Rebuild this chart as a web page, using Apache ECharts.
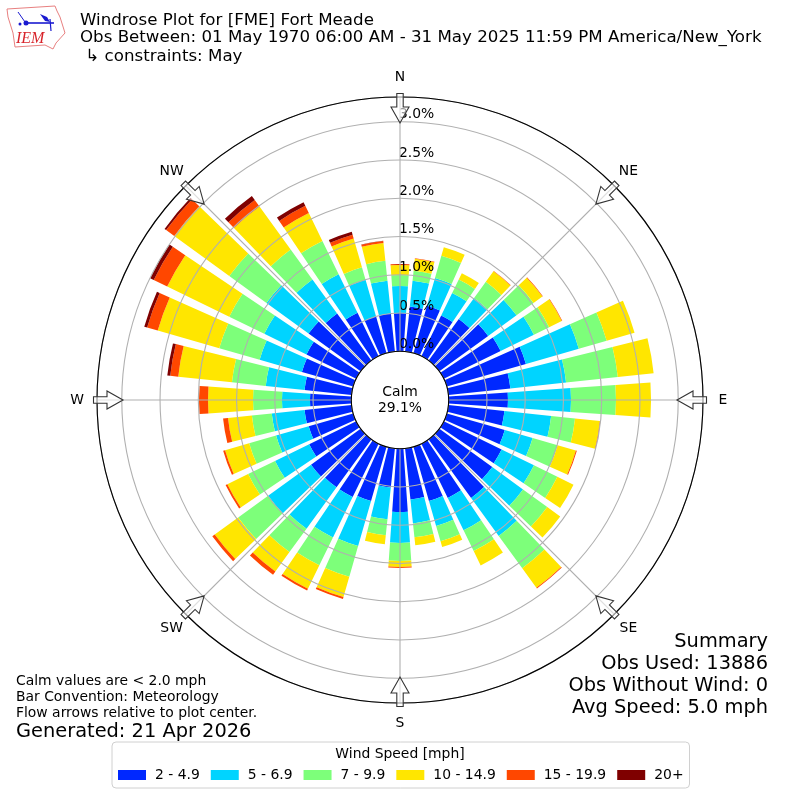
<!DOCTYPE html>
<html>
<head>
<meta charset="utf-8">
<style>html,body{margin:0;padding:0;background:#fff}#c{width:800px;height:800px}</style>
<script src="https://cdn.jsdelivr.net/npm/echarts@6/dist/echarts.min.js"></script>
</head>
<body>
<div id="c"></div>
<script>
const directions = [10,20,30,40,50,60,70,80,90,100,110,120,130,140,150,160,170,180,190,200,210,220,230,240,250,260,270,280,290,300,310,320,330,340,350,360].map(String);
const speedNames = ['2 - 4.9','5 - 6.9','7 - 9.9','10 - 14.9','15 - 19.9','20+'];
const speedColors = ['#0028ff','#00d4ff','#7dff7a','#ffe600','#ff4700','#7f0000'];
const speed2to5 = [.592,.644,.592,.671,.788,.827,1.076,.814,.775,.736,.788,.841,.854,.945,.788,.736,.671,.827,.514,.736,.775,.775,.801,.684,.605,.618,.540,.618,.697,.723,.841,.762,.631,.501,.501,.501];
const speed5to7 = [.340,.379,.327,.340,.458,.484,.719,.732,.824,.614,.379,.471,.497,.614,.471,.340,.314,.405,.418,.614,.588,.667,.693,.497,.444,.431,.366,.510,.575,.614,.680,.549,.562,.497,.431,.353];
const speed7to10 = [.131,.301,.196,.261,.275,.222,.379,.680,.588,.314,.340,.340,.392,.523,.301,.209,.183,.235,.209,.418,.405,.379,.484,.392,.366,.261,.379,.444,.549,.510,.601,.484,.484,.170,.261,.144];
const speed10to15 = [.157,.118,.092,.170,.144,.183,.379,.471,.458,.327,.248,.235,.209,.314,.209,.078,.105,.078,.118,.275,.340,.314,.379,.301,.327,.314,.588,.706,.837,.902,.889,.693,.405,.392,.235,.131];
const speed15to20 = [.007,0,0,.007,.007,.007,0,0,0,.007,.013,0,0,.013,0,0,0,.013,0,.026,.026,.052,.039,.026,.026,.065,.118,.105,.144,.196,.131,.105,.105,.052,.026,.013];
const speed20plus = [0,0,0,0,0,0,0,0,0,0,0,0,0,0,0,0,0,0,0,0,0,0,0,0,0,0,0,.039,.039,.052,.026,.065,.052,.039,.004,0];
const speedSeries = [speed2to5,speed5to7,speed7to10,speed10to15,speed15to20,speed20plus];
const compassNames = ['N','NE','E','SE','S','SW','W','NW'];
const compassAngles = [0,45,90,135,180,225,270,315];
const radiusMax = 3.324;
const titleLines = ['Windrose Plot for [FME] Fort Meade','Obs Between: 01 May 1970 06:00 AM - 31 May 2025 11:59 PM America/New_York',' \u21b3 constraints: May'];
const summaryLines = ['Summary','Obs Used: 13886','Obs Without Wind: 0','Avg Speed: 5.0 mph'];
const noteLines = ['Calm values are < 2.0 mph','Bar Convention: Meteorology','Flow arrows relative to plot center.'];
const generated = 'Generated: 21 Apr 2026';
const calmText = 'Calm\n29.1%';

const FONT = '"DejaVu Sans"';
const center = ['50%','50%'];
const rad = [48.7,303];
const txt = (x,y,text,size,extra) => ({type:'text',x,y,z:20,style:Object.assign({text,fontSize:size,fontFamily:FONT,fill:'#000',textVerticalAlign:'middle'},extra||{})});

const arrowPts = [[-3.2,-306.5],[3.2,-306.5],[3.2,-293],[9,-293],[0,-277],[-9,-293],[-3.2,-293]];
const arrows = compassAngles.map(a => ({type:'polygon',x:400,y:400,rotation:-a*Math.PI/180,z:15,
  shape:{points:arrowPts},style:{fill:'rgba(255,255,255,0.6)',stroke:'#333',lineWidth:1.1}}));
const compassText = compassAngles.map((a,i) => txt(400+323*Math.sin(a*Math.PI/180),400-323*Math.cos(a*Math.PI/180),compassNames[i],13.9,{textAlign:'center'}));

const logo = [
  {type:'polyline',z:20,shape:{points:[[7,9],[55,6],[57,11],[60,17],[65,33],[56,43],[53,49],[45,45],[15,47],[13,33],[8,17],[7,9]]},style:{fill:'none',stroke:'#e88080',lineWidth:1}},
  {type:'line',z:20,shape:{x1:25,y1:23,x2:54,y2:23},style:{stroke:'#1a1ad0',lineWidth:1.6}},
  {type:'circle',z:20,shape:{cx:26,cy:23,r:2.5},style:{fill:'#1a1ad0'}},
  {type:'line',z:20,shape:{x1:18,y1:12,x2:25,y2:22},style:{stroke:'#1a1ad0',lineWidth:1}},
  {type:'polygon',z:20,shape:{points:[[40,14],[47,17],[50,22],[45,21]]},style:{fill:'#1a1ad0'}},
  {type:'line',z:20,shape:{x1:50,y1:19,x2:51,y2:31},style:{stroke:'#1a1ad0',lineWidth:1.2}},
  {type:'circle',z:20,shape:{cx:20,cy:24,r:1.5},style:{fill:'#1a1ad0'}},
  {type:'text',x:16,y:39,z:20,style:{text:'IEM',fontSize:16,fontStyle:'italic',fontFamily:'"Liberation Serif"',fill:'#d8232a',textVerticalAlign:'middle'}}
];

const graphics = [].concat(
  logo,
  arrows,
  compassText,
  titleLines.map((t,i)=>txt(80,[21,38,57][i],t,16.67)),
  summaryLines.map((t,i)=>txt(768,[641.5,663.5,685.5,707.5][i],t,19.4,{textAlign:'right'})),
  noteLines.map((t,i)=>txt(16,[681,697,713][i],t,13.9)),
  [txt(16,731.5,generated,19.4),
   {type:'text',x:400,y:400,z:20,style:{text:calmText,fontSize:13.9,lineHeight:16,fontFamily:FONT,fill:'#000',textAlign:'center',textVerticalAlign:'middle'}},
   txt(400,754,'Wind Speed [mph]',13.9,{textAlign:'center'})]
);

const chart = echarts.init(document.getElementById('c'),null,{renderer:'canvas'});
chart.setOption({
  animation:false,
  backgroundColor:'#fff',
  textStyle:{fontFamily:FONT},
  polar:[{center,radius:rad},{center,radius:rad}],
  angleAxis:[
    {polarIndex:0,type:'category',data:directions,startAngle:85,clockwise:true,show:false},
    {polarIndex:1,type:'value',min:0,max:360,interval:45,startAngle:90,clockwise:true,z:6,
     axisTick:{show:false},
     axisLine:{show:true,lineStyle:{color:'#000',width:1.1}},
     splitLine:{show:true,lineStyle:{color:'#b0b0b0',width:1.1}},
     axisLabel:{show:false}}
  ],
  radiusAxis:[
    {polarIndex:0,type:'value',min:0,max:radiusMax,show:false},
    {polarIndex:1,type:'value',min:0,max:radiusMax,interval:0.5,z:5,
     axisLine:{show:false},axisTick:{show:false},
     splitLine:{show:true,lineStyle:{color:'#b0b0b0',width:1.1}},
     axisLabel:{show:true,inside:true,margin:1,rotate:0,align:'left',verticalAlign:'bottom',color:'#000',fontSize:13.9,fontFamily:FONT,
       formatter:v=>v>3.01?'':v.toFixed(1)+'%'}}
  ],
  legend:{show:true,left:112,top:742,orient:'horizontal',
    padding:[26,6,6,6],itemWidth:28,itemHeight:10,itemGap:11,icon:'rect',
    borderColor:'#d0d0d0',borderWidth:1,borderRadius:4,backgroundColor:'#fff',
    selectedMode:false,
    textStyle:{fontSize:13.9,fontFamily:FONT,color:'#000',padding:[0,0,0,4]},
    data:speedNames},
  series:speedSeries.map((vals,i)=>({
    name:speedNames[i],type:'bar',coordinateSystem:'polar',polarIndex:0,stack:'wind',
    barWidth:'80%',z:2,silent:true,
    itemStyle:{color:speedColors[i]},
    data:vals
  })),
  graphic:{elements:graphics}
});
</script>
</body>
</html>
